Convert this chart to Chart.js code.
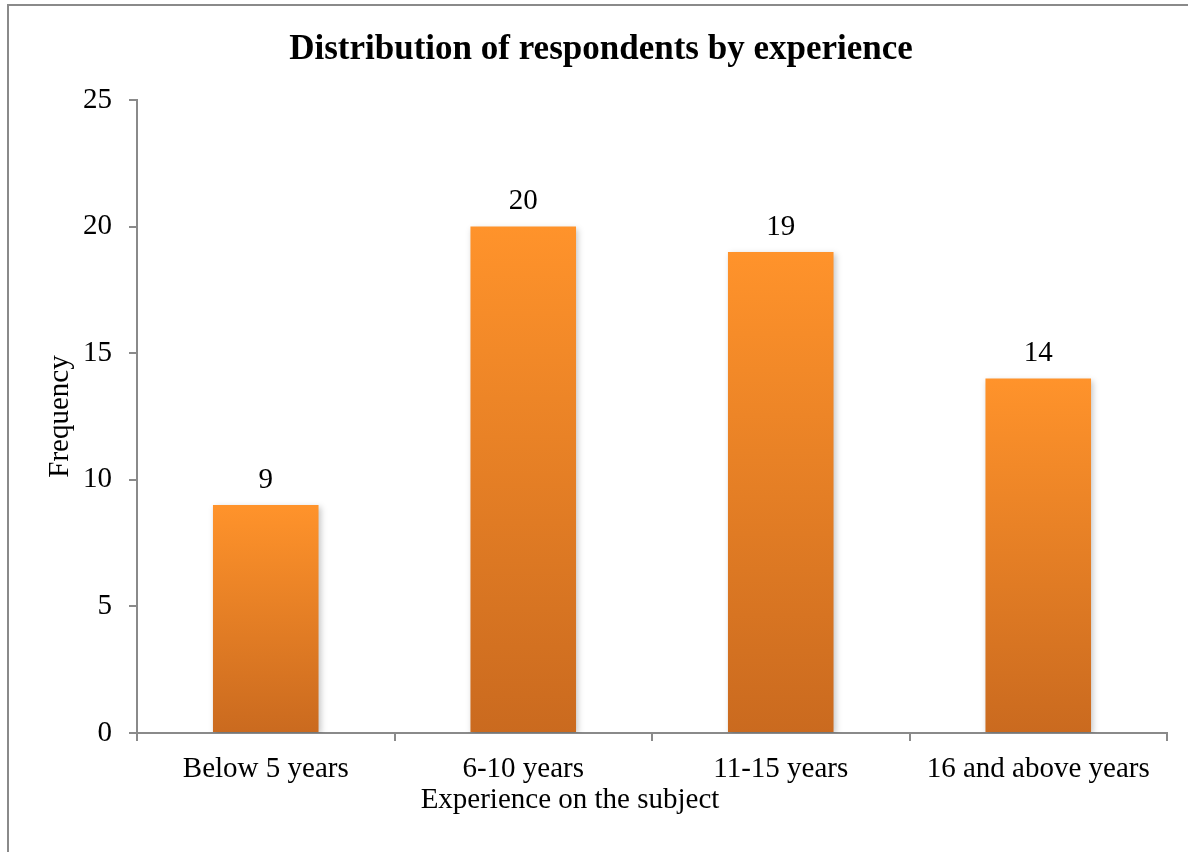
<!DOCTYPE html>
<html>
<head>
<meta charset="utf-8">
<script src="https://cdn.jsdelivr.net/npm/chart.js@4/dist/chart.umd.min.js"></script>
<style>
  html, body { margin: 0; padding: 0; background: #fff; }
  #wrap { width: 1188px; height: 852px; }
</style>
</head>
<body>
<div id="wrap"><canvas id="expChart" width="1188" height="852"></canvas></div>
<script>
// Data
const experienceGroups = ["Below 5 years", "6-10 years", "11-15 years", "16 and above years"];
const frequency = [9, 20, 19, 14];
const yTicks = [0, 5, 10, 15, 20, 25];

const serif = "'Liberation Serif', 'Times New Roman', serif";
const axisGray = "#8a8a8a";
const textSize = 29;

// orange fade per bar, light on top, darker at the base
function barGradient(context) {
  const chart = context.chart;
  if (!chart.chartArea || context.type !== "data") return "#f0862a";
  const y = chart.scales.y;
  const top = y.getPixelForValue(context.raw);
  const base = y.getPixelForValue(0);
  const g = chart.ctx.createLinearGradient(0, top, 0, base);
  g.addColorStop(0, "#ff932b");
  g.addColorStop(1, "#ca6a1f");
  return g;
}

// frame, bar shadows, value labels, x title
const extras = {
  id: "extras",
  beforeDraw(chart) {
    const ctx = chart.ctx;
    ctx.save();
    ctx.fillStyle = "#fff";
    ctx.fillRect(0, 0, chart.width, chart.height);
    ctx.strokeStyle = axisGray;
    ctx.lineWidth = 2;
    ctx.strokeRect(8, 5, chart.width + 20, chart.height + 20);
    ctx.restore();
  },
  beforeDatasetsDraw(chart) {
    const ctx = chart.ctx;
    ctx.save();
    ctx.shadowColor = "rgba(0,0,0,0.22)";
    ctx.shadowBlur = 6;
    ctx.shadowOffsetX = 2;
    ctx.shadowOffsetY = 2;
  },
  afterDatasetsDraw(chart) {
    const ctx = chart.ctx;
    ctx.restore();
    ctx.save();
    ctx.fillStyle = "#000";
    ctx.font = textSize + "px " + serif;
    ctx.textAlign = "center";
    ctx.textBaseline = "middle";
    chart.getDatasetMeta(0).data.forEach((bar, i) => {
      ctx.fillText(String(frequency[i]), bar.x, bar.y - 25);
    });
    // x axis title sits left of centre in the original
    ctx.fillText("Experience on the subject", 570, 800);
    ctx.restore();
  }
};

new Chart(document.getElementById("expChart").getContext("2d"), {
  type: "bar",
  data: {
    labels: experienceGroups,
    datasets: [
      {
        data: frequency,
        backgroundColor: barGradient,
        borderWidth: 0,
        barPercentage: 0.41,
        categoryPercentage: 1.0,
      },
    ],
  },
  options: {
    responsive: false,
    animation: false,
    devicePixelRatio: 1,
    layout: { padding: { left: 35, right: 21, top: 0, bottom: 0 } },
    plugins: {
      legend: { display: false },
      tooltip: { enabled: false },
      title: {
        display: true,
        text: "Distribution of respondents by experience",
        color: "#000",
        font: { family: serif, size: 35, weight: "bold" },
        padding: { top: 29, bottom: 29 },
      },
    },
    scales: {
      x: {
        grid: {
          display: true,
          drawOnChartArea: false,
          drawTicks: true,
          tickLength: 8,
          color: axisGray,
          lineWidth: 2,
          offset: true,
        },
        border: { display: true, color: axisGray, width: 2 },
        ticks: {
          color: "#000",
          font: { family: serif, size: textSize },
          padding: 11,
          maxRotation: 0,
        },
        afterFit(scale) { scale.height = 119; },
      },
      y: {
        min: 0,
        max: 25,
        afterBuildTicks(scale) { scale.ticks = yTicks.map(v => ({ value: v })); },
        grid: {
          display: true,
          drawOnChartArea: false,
          drawTicks: true,
          tickLength: 8,
          color: axisGray,
          lineWidth: 2,
        },
        border: { display: true, color: axisGray, width: 2 },
        ticks: {
          color: "#000",
          font: { family: serif, size: textSize },
          padding: 17,
        },
        title: {
          display: true,
          text: "Frequency",
          color: "#000",
          font: { family: serif, size: textSize },
          padding: { top: 8, bottom: 0 },
        },
        afterFit(scale) { scale.width = 102; },
      },
    },
  },
  plugins: [extras],
});
</script>
</body>
</html>
